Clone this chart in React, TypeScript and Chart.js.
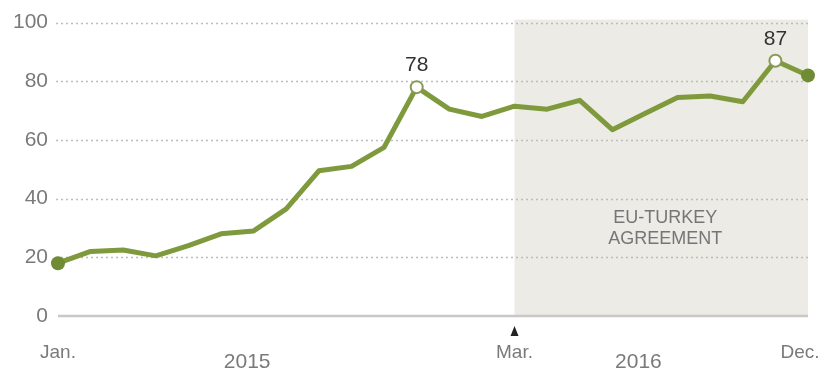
import React, { useEffect, useRef } from "react";
import { Chart, registerables } from "chart.js";

Chart.register(...registerables);

// ---- data ----
const months = [
  "Jan. 2015", "Feb. 2015", "Mar. 2015", "Apr. 2015", "May 2015", "Jun. 2015",
  "Jul. 2015", "Aug. 2015", "Sep. 2015", "Oct. 2015", "Nov. 2015", "Dec. 2015",
  "Jan. 2016", "Feb. 2016", "Mar. 2016", "Apr. 2016", "May 2016", "Jun. 2016",
  "Jul. 2016", "Aug. 2016", "Sep. 2016", "Oct. 2016", "Nov. 2016", "Dec. 2016",
];
const values = [
  18, 22, 22.5, 20.5, 24, 28, 29, 36.5, 49.5, 51, 57.5, 78,
  70.5, 68, 71.5, 70.5, 73.5, 63.5, 69, 74.5, 75, 73, 87, 82,
];
const yTicks = [0, 20, 40, 60, 80, 100];
const axisMonthLabels = ["Jan.", "Mar.", "Dec."];
const axisMonthIndex = [0, 14, 23];
const yearLabels = ["2015", "2016"];
const labeledPoints = [11, 22];
const shadeFrom = 14; // Mar. 2016
const shadeTo = 23; // Dec. 2016
const shadeText = ["EU-TURKEY", "AGREEMENT"];

const LINE = "#7f9a3c";
const DOT = "#6f8b34";
const FONT = "'Liberation Sans', Arial, sans-serif";

const decor = {
  id: "decor",
  beforeDraw(chart: any) {
    const { ctx, chartArea, scales } = chart;
    const x = scales.x;
    const x0 = x.getPixelForValue(shadeFrom);
    const x1 = x.getPixelForValue(shadeTo);
    ctx.save();
    ctx.fillStyle = "#ecebe5";
    ctx.fillRect(x0, chartArea.top - 3, x1 - x0, chartArea.bottom - chartArea.top + 3);
    ctx.restore();
  },
  beforeDatasetsDraw(chart: any) {
    const { ctx, chartArea, scales } = chart;
    const x = scales.x;
    const y = scales.y;
    ctx.save();
    // dotted grid lines
    ctx.strokeStyle = "#bdbdbd";
    ctx.lineWidth = 1.5;
    ctx.setLineDash([2, 3]);
    yTicks.forEach((t) => {
      if (t === 0) return;
      const py = Math.round(y.getPixelForValue(t)) + 0.5;
      ctx.beginPath();
      ctx.moveTo(chartArea.left - 2, py);
      ctx.lineTo(chartArea.right, py);
      ctx.stroke();
    });
    ctx.setLineDash([]);
    // zero baseline
    const pz = y.getPixelForValue(0);
    ctx.strokeStyle = "#c8c8c8";
    ctx.lineWidth = 2.5;
    ctx.beginPath();
    ctx.moveTo(chartArea.left, pz);
    ctx.lineTo(chartArea.right, pz);
    ctx.stroke();

    // shaded text
    const cx = (x.getPixelForValue(shadeFrom) + x.getPixelForValue(shadeTo)) / 2 + 4;
    ctx.fillStyle = "#767676";
    ctx.font = `18px ${FONT}`;
    ctx.textAlign = "center";
    ctx.textBaseline = "middle";
    ctx.fillText(shadeText[0], cx, y.getPixelForValue(33.5));
    ctx.fillText(shadeText[1], cx, y.getPixelForValue(26.4));

    // x labels
    ctx.font = `19px ${FONT}`;
    ctx.fillStyle = "#7a7a7a";
    axisMonthLabels.forEach((lab, i) => {
      const idx = axisMonthIndex[i];
      let px = x.getPixelForValue(idx);
      if (idx === months.length - 1) px -= 8;
      ctx.fillText(lab, px, pz + 37);
    });
    ctx.font = `21px ${FONT}`;
    const yearPos = [5.8, 17.8];
    yearLabels.forEach((lab, i) => {
      ctx.fillText(lab, x.getPixelForValue(yearPos[i]), pz + 46);
    });

    // triangle marker at shade start
    const tx = x.getPixelForValue(shadeFrom);
    ctx.fillStyle = "#222";
    ctx.beginPath();
    ctx.moveTo(tx, pz + 10);
    ctx.lineTo(tx + 4, pz + 20);
    ctx.lineTo(tx - 4, pz + 20);
    ctx.closePath();
    ctx.fill();
    ctx.restore();
  },
  afterDatasetsDraw(chart: any) {
    const { ctx, scales } = chart;
    const x = scales.x;
    const y = scales.y;
    ctx.save();
    ctx.fillStyle = "#333";
    ctx.font = `21px ${FONT}`;
    ctx.textAlign = "center";
    ctx.textBaseline = "middle";
    labeledPoints.forEach((i) => {
      ctx.fillText(String(values[i]), x.getPixelForValue(i), y.getPixelForValue(values[i]) - 22);
    });
    ctx.restore();
  },
};

export default function App() {
  const ref = useRef<HTMLCanvasElement>(null);
  useEffect(() => {
    const last = values.length - 1;
    const radius = values.map((_, i) =>
      i === 0 || i === last ? 7 : labeledPoints.includes(i) ? 6 : 0
    );
    const bg = values.map((_, i) => (labeledPoints.includes(i) ? "#ffffff" : DOT));
    const bc = values.map((_, i) => (labeledPoints.includes(i) ? "#8a9a5a" : DOT));
    const bw = values.map((_, i) => (labeledPoints.includes(i) ? 2 : 0));
    const chart = new Chart(ref.current as HTMLCanvasElement, {
      type: "line",
      data: {
        labels: months,
        datasets: [
          {
            data: values,
            borderColor: LINE,
            borderWidth: 5,
            tension: 0,
            borderJoinStyle: "round",
            borderCapStyle: "round",
            pointRadius: radius,
            pointBackgroundColor: bg,
            pointBorderColor: bc,
            pointBorderWidth: bw,
            pointHoverRadius: radius,
            clip: false as any,
          },
        ],
      },
      options: {
        responsive: false,
        animation: false,
        layout: { padding: { top: 15, right: 12, bottom: 59, left: 0 } },
        plugins: { legend: { display: false }, tooltip: { enabled: false } },
        events: [],
        scales: {
          x: { display: false, offset: false },
          y: {
            min: 0,
            max: 100,
            afterFit: (s: any) => {
              s.width = 58;
            },
            grid: { display: false, drawTicks: false },
            border: { display: false },
            ticks: {
              stepSize: 20,
              padding: 10,
              color: "#7a7a7a",
              font: { family: FONT, size: 21 },
            },
          },
        },
      },
      plugins: [decor],
    });
    return () => chart.destroy();
  }, []);
  return (
    <div style={{ position: "fixed", left: 0, top: 0, width: 820, height: 375, background: "#fff" }}>
      <canvas ref={ref} width={820} height={375} style={{ display: "block" }} />
    </div>
  );
}
